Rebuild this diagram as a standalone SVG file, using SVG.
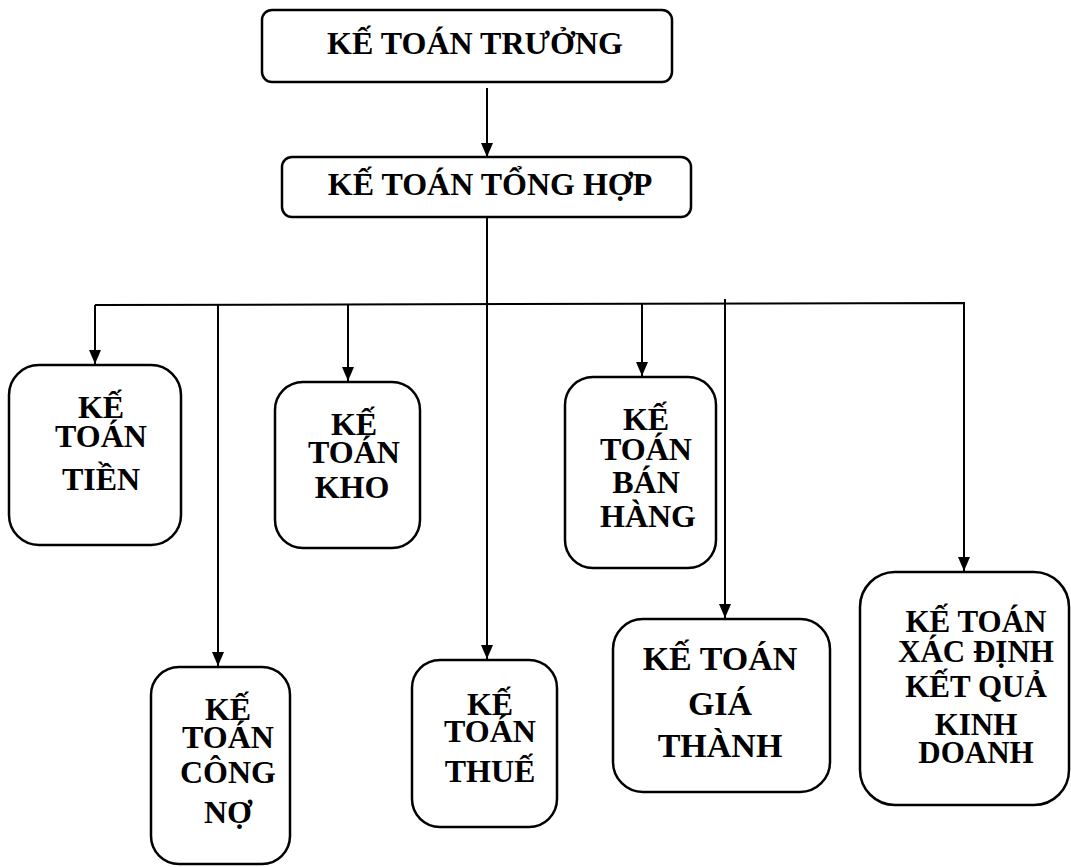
<svg xmlns="http://www.w3.org/2000/svg" width="1071" height="867" viewBox="0 0 1071 867">
<defs>
<marker id="ah" viewBox="0 0 14 12" refX="14" refY="6" markerWidth="14" markerHeight="12" markerUnits="userSpaceOnUse" orient="auto">
<path d="M0,0 L14,6 L0,12 Z" fill="#000"/>
</marker>
<style>
.box{fill:#fff;stroke:#000;stroke-width:2.5}
.t{font-family:"Liberation Serif","Times New Roman",serif;font-weight:bold;font-size:32px;fill:#000;text-anchor:middle}
.big{font-size:32px}
.kq{font-size:31px}
.gt{font-size:34px}
.c{fill:none;stroke:#000;stroke-width:2}
</style>
</defs>
<rect width="1071" height="867" fill="#fff"/>
<g id="connectors">
<line class="c" x1="487" y1="88" x2="487" y2="157" marker-end="url(#ah)"/>
<line class="c" x1="487" y1="217" x2="487" y2="659" marker-end="url(#ah)"/>
<polyline class="c" points="95,305 964,303 964,571" marker-end="url(#ah)"/>
<line class="c" x1="95" y1="305" x2="95" y2="364" marker-end="url(#ah)"/>
<line class="c" x1="218" y1="305" x2="218" y2="666" marker-end="url(#ah)"/>
<line class="c" x1="348" y1="305" x2="348" y2="381" marker-end="url(#ah)"/>
<line class="c" x1="642" y1="304" x2="642" y2="376" marker-end="url(#ah)"/>
<line class="c" x1="725" y1="299" x2="725" y2="618" marker-end="url(#ah)"/>
</g>
<g id="ke-toan-truong">
<rect class="box" x="262" y="10" width="410" height="72" rx="10"/>
<text class="t big" x="475" y="54">KẾ TOÁN TRƯỞNG</text>
</g>
<g id="ke-toan-tong-hop">
<rect class="box" x="282" y="157" width="409" height="60" rx="10"/>
<text class="t big" x="490" y="195">KẾ TOÁN TỔNG HỢP</text>
</g>
<g id="ke-toan-tien">
<rect class="box" x="9" y="365" width="172" height="180" rx="30"/>
<text class="t" x="101" y="418">KẾ</text>
<text class="t" x="101" y="447">TOÁN</text>
<text class="t" x="101" y="490">TIỀN</text>
</g>
<g id="ke-toan-kho">
<rect class="box" x="275" y="382" width="145" height="166" rx="28"/>
<text class="t" x="354" y="435">KẾ</text>
<text class="t" x="354" y="463">TOÁN</text>
<text class="t" x="352" y="498">KHO</text>
</g>
<g id="ke-toan-ban-hang">
<rect class="box" x="565" y="377" width="151" height="191" rx="28"/>
<text class="t" x="646" y="430">KẾ</text>
<text class="t" x="646" y="460">TOÁN</text>
<text class="t" x="646" y="493">BÁN</text>
<text class="t" x="648" y="527">HÀNG</text>
</g>
<g id="ke-toan-cong-no">
<rect class="box" x="151" y="667" width="139" height="197" rx="28"/>
<text class="t" x="228" y="720">KẾ</text>
<text class="t" x="228" y="748">TOÁN</text>
<text class="t" x="228" y="783">CÔNG</text>
<text class="t" x="228" y="823">NỢ</text>
</g>
<g id="ke-toan-thue">
<rect class="box" x="412" y="660" width="145" height="167" rx="28"/>
<text class="t" x="490" y="715">KẾ</text>
<text class="t" x="490" y="742">TOÁN</text>
<text class="t" x="490" y="782">THUẾ</text>
</g>
<g id="ke-toan-gia-thanh">
<rect class="box" x="613" y="619" width="217" height="173" rx="30"/>
<text class="t gt" x="720" y="670">KẾ TOÁN</text>
<text class="t gt" x="720" y="715">GIÁ</text>
<text class="t gt" x="720" y="757">THÀNH</text>
</g>
<g id="ke-toan-xac-dinh-kqkd">
<rect class="box" x="860" y="572" width="209" height="233" rx="35"/>
<text class="t kq" x="976" y="632">KẾ TOÁN</text>
<text class="t kq" x="976" y="662">XÁC ĐỊNH</text>
<text class="t kq" x="976" y="697">KẾT QUẢ</text>
<text class="t kq" x="976" y="735">KINH</text>
<text class="t kq" x="976" y="763">DOANH</text>
</g>
</svg>
